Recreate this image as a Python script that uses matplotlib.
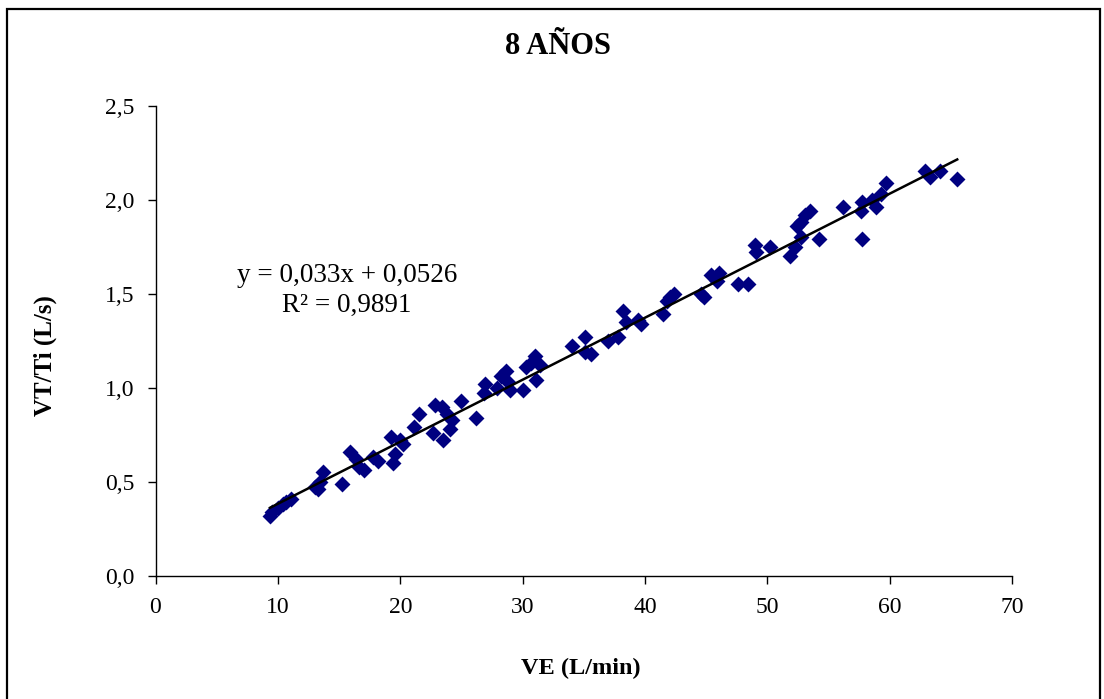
import matplotlib
matplotlib.use("Agg")
import matplotlib.pyplot as plt
from matplotlib.ticker import FuncFormatter, MultipleLocator
from matplotlib.patches import Rectangle
import numpy as np

plt.rcParams['font.family'] = ['Liberation Serif', 'DejaVu Serif']

title = "8 AÑOS"
xlabel = "VE (L/min)"
ylabel = "VT/Ti (L/s)"
eq_line1 = "y = 0,033x + 0,0526"
eq_line2 = "R² = 0,9891"
slope = 0.033
intercept = 0.0526

ve = [9.35, 9.55, 10.0, 10.4, 10.7, 11.1, 13.0, 13.3, 13.4, 13.7,
      15.2, 15.9, 16.4, 16.6, 17.0, 17.8, 18.2, 19.2, 19.4, 19.6,
      20.0, 20.25, 21.1, 21.5, 22.8, 22.7, 23.4, 23.5, 23.8, 24.2,
      24.1, 25.0, 26.2, 26.8, 26.9, 27.9, 28.2, 28.6, 28.8, 29.0,
      30.0, 30.3, 30.7, 31.0, 31.1, 31.4, 34.0, 35.1, 35.1, 35.6,
      37.0, 37.8, 38.2, 38.4, 39.45, 39.7, 41.5, 41.8, 42.0, 42.4,
      44.6, 44.8, 45.4, 45.85, 46.0, 47.6, 48.4, 49.0, 49.1, 50.2,
      51.8, 52.25, 52.4, 52.7, 52.7, 53.1, 53.5, 54.2, 56.2, 57.6,
      57.7, 57.7, 58.5, 58.9, 59.3, 59.7, 62.9, 63.3, 64.1, 65.5]
vtti = [0.32, 0.34, 0.36, 0.38, 0.39, 0.41, 0.47, 0.46, 0.50, 0.55,
        0.49, 0.66, 0.62, 0.58, 0.56, 0.63, 0.61, 0.74, 0.60, 0.65,
        0.72, 0.70, 0.79, 0.86, 0.91, 0.76, 0.90, 0.72, 0.86, 0.83,
        0.78, 0.93, 0.84, 0.97, 1.02, 1.00, 1.06, 1.09, 1.03, 0.99,
        0.99, 1.11, 1.13, 1.17, 1.04, 1.12, 1.22, 1.27, 1.19, 1.18,
        1.25, 1.27, 1.41, 1.35, 1.36, 1.34, 1.39, 1.46, 1.48, 1.50,
        1.50, 1.48, 1.60, 1.57, 1.61, 1.55, 1.55, 1.76, 1.72, 1.75,
        1.70, 1.75, 1.86, 1.88, 1.80, 1.92, 1.94, 1.79, 1.96, 1.94,
        1.99, 1.79, 2.00, 1.96, 2.03, 2.09, 2.15, 2.12, 2.15, 2.11]

W, H = 1104, 699
fig = plt.figure(figsize=(W / 100, H / 100), dpi=100)
ax = fig.add_axes([155.5 / W, 1 - 575.7 / H, (1012.3 - 155.5) / W, (575.7 - 105.7) / H])

ax.scatter(ve, vtti, marker='D', s=66, color='#000080', linewidths=0, zorder=3)
xl = np.array([min(ve), max(ve)])
ax.plot(xl, slope * xl + intercept, color='black', lw=1.8, zorder=4)

ax.set_xlim(0, 70)
ax.set_ylim(0, 2.5)
ax.xaxis.set_major_locator(MultipleLocator(10))
ax.yaxis.set_major_locator(MultipleLocator(0.5))
ax.yaxis.set_major_formatter(FuncFormatter(lambda v, p: f"{v:.1f}".replace('.', ',')))
ax.xaxis.set_major_formatter(FuncFormatter(lambda v, p: f"{v:.0f}"))
for s in ['top', 'right']:
    ax.spines[s].set_visible(False)
for s in ['left', 'bottom']:
    ax.spines[s].set_linewidth(1.0)
ax.tick_params(axis='both', direction='out', length=6, width=1.0, labelsize=17, pad=9)

eq_x = (347 - 155.5) / 12.24
ax.text(eq_x, 1.564, eq_line1, ha='center', va='baseline', fontsize=19.5)
ax.text(eq_x, 1.404, eq_line2, ha='center', va='baseline', fontsize=19.5)

fig.text(0.505, 1 - 47 / H, title, ha='center', va='center', fontsize=22, fontweight='bold')
fig.text(581 / W, 1 - 668 / H, xlabel, ha='center', va='center',
         fontsize=17.5, fontweight='bold')
fig.text(45 / W, 1 - 356 / H, ylabel, ha='center', va='center', rotation=90,
         fontsize=18, fontweight='bold')

fig.patches.append(Rectangle((7 / W, -0.05), (1100 - 7) / W, 1 - 9 / H + 0.05,
                             transform=fig.transFigure, fill=False, edgecolor='black',
                             linewidth=1.6, clip_on=False))

fig.savefig("out.png", dpi=100)
